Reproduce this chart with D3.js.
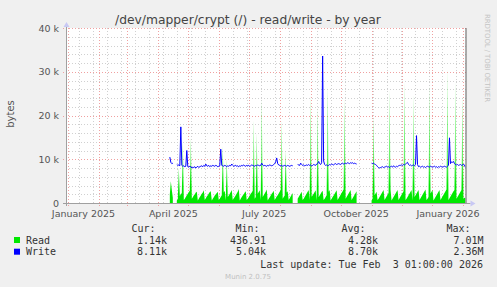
<!DOCTYPE html>
<html><head><meta charset="utf-8">
<script src="https://cdn.jsdelivr.net/npm/d3@7"></script>
<style>body{margin:0;background:#f0f0f0;}svg{display:block;}</style>
</head><body><svg id="c" width="497" height="287"></svg>
<script>
const title = "/dev/mapper/crypt (/) - read/write - by year";
const yLabel = "bytes";
const endTime = Date.UTC(2026, 1, 3, 1, 0, 0);
const spanDays = 400;
const dataStart = Date.UTC(2025, 3, 13);
// daily values in kilobytes (null = no data)
const readK = [
 2.0, 5.0, 3.0, 1.2,
 null, null, null,
 0.6, 0.9, 8.0, 1.6, 2.0, 2.3, 14.0,
 0.7, 1.0, 1.4, 1.8, 2.1, 2.5, 2.8,
 15.0, 1.0, 1.3, 1.7, 2.0, 2.4, 2.6,
 0.6, 1.0, 1.4, 1.7, 2.1, 2.4, 2.9,
 0.7, 1.1, 1.5, 1.8, 2.2, 2.5, 2.7,
 0.6, 1.0, 1.3, 1.7, 2.0, 2.3, 2.6,
 0.7, 1.0, 1.4, 1.8, 13.0, 2.4, 2.8,
 0.6, 10.0, 1.4, 1.7, 2.1, 2.5, 3.0,
 0.7, 1.1, 1.4, 1.8, 2.2, 2.6, 3.2,
 0.6, 1.0, 1.4, 1.7, 2.0, 2.4, 2.7,
 0.7, 1.0, 1.3, 1.7, 2.1, 2.4, 2.8,
 19.0, 1.0, 1.4, 16.0, 2.1, 2.5, 2.9,
 0.7, 24.0, 1.4, 1.8, 2.2, 2.6, 3.1,
 0.6, 1.0, 1.3, 1.7, 2.1, 2.4, 2.8,
 0.7, 1.1, 1.5, 1.8, 2.2, 2.6, 3.0,
 19.0, 1.0, 1.4, 1.7, 12.0, 2.4, 2.7,
 0.7, 1.1, 1.5, 1.9, 2.3,
 null, null, null, null,
 1.0, 1.4, 1.8, 2.2, 2.6, 0.7, 1.0,
 1.4, 1.8, 2.2, 2.6, 3.0, 0.7, 25.0,
 1.4, 1.8, 2.1, 2.5, 2.9, 0.6, 22.0,
 1.3, 1.7, 2.1, 2.5, 2.8, 0.7, 1.0,
 1.4, 1.8, 27.0, 2.6, 3.0, 0.6, 1.0,
 1.4, 1.7, 2.1, 2.5, 2.9, 0.7, 1.1,
 1.5, 1.9, 2.3, 2.7, 3.1, 24.0, 1.0,
 1.4, 1.8, 2.2, 2.6, 3.0, 0.7, 1.1,
 1.5, 1.9, 2.3, 2.7,
 null, null, null, null, null, null, null, null, null, null, null, null, null, null,
 0.6, 1.0, 20.0, 1.8, 2.2, 2.6, 0.7,
 1.0, 1.4, 1.8, 2.2, 2.6, 3.0, 0.7,
 1.1, 1.5, 1.9, 2.3, 26.0, 3.0, 0.6,
 1.0, 1.4, 1.8, 2.2, 2.6, 3.0, 0.7,
 1.1, 1.5, 1.9, 2.3, 2.7, 28.0, 0.7,
 1.0, 1.4, 1.8, 2.2, 2.6, 3.0, 0.6,
 25.0, 1.4, 1.8, 2.2, 2.6, 3.0, 0.7,
 1.1, 1.5, 1.9, 2.3, 2.7, 3.1, 0.7,
 1.0, 1.4, 27.0, 2.2, 2.6, 3.0, 0.6,
 1.0, 1.4, 1.8, 2.2, 2.6, 3.0, 0.7,
 1.1, 1.5, 1.9, 2.3, 2.7, 3.1, 31.0,
 0.7, 1.1, 1.5, 1.9, 2.3, 2.7, 3.0,
 28.0, 1.0, 1.4, 1.8, 2.2, 2.6, 3.0,
 25.0, 1.0, 1.2, 1.14
];
const writeK = [
 10.5, 9.3, 9.0, 9.1,
 null, null, null,
 8.8, 8.6, 8.7, 8.5,
 17.4,
 8.6, 8.4, 8.5, 8.3, 8.4,
 12.0,
 8.3, 8.2, 8.4, 8.3, 8.0, 8.2, 8.1, 8.3, 8.0, 8.2, 8.4, 8.1, 8.3,
 8.4, 8.5, 8.3, 8.6, 8.4, 8.9, 8.5, 8.4, 8.6, 8.3, 8.5, 8.4, 8.6, 8.5, 8.4, 8.6, 8.5, 8.3, 8.4, 8.5,
 12.3,
 8.6, 8.5, 8.4, 8.6, 8.5, 8.3, 8.5, 8.4, 8.6, 8.5, 8.9, 8.6, 8.4, 8.5, 8.6, 8.4, 8.5, 8.3, 8.5,
 8.4, 8.6, 8.5, 8.7, 8.5, 8.4, 8.6, 8.5, 8.6, 8.4, 8.5, 8.7, 8.6, 8.5, 8.4, 8.6, 8.5, 8.7,
 8.6, 8.5, 8.6, 9.1, 8.7, 8.5, 8.6, 8.5, 8.4, 8.6, 8.5, 8.7, 8.6, 8.5, 8.6, 8.8, 9.0, 9.4,
 10.3,
 9.0, 8.7, 8.6, 8.5, 8.6, 8.4, 8.5, 8.6, 8.5, 8.4, 8.6, 8.5, 8.4, 8.5, 8.6, 8.5,
 null, null, null, null,
 8.8, 8.7, 8.6, 9.1, 8.8, 8.6, 8.7, 8.5, 8.6, 8.7, 8.6, 8.8, 8.6, 8.7, 8.5, 8.6, 8.8, 8.7, 8.6, 8.9, 9.0,
 9.5,
 9.0, 8.8, 9.2,
 33.6,
 9.6, 8.8, 8.6, 8.7, 8.5, 8.6, 8.8, 8.7, 8.9, 8.8, 8.7, 8.9, 9.0, 8.8, 8.9, 9.0, 8.9,
 8.8, 9.0, 9.1, 8.9, 9.0, 9.1, 9.0, 9.2, 9.1, 9.0, 9.2, 9.1, 9.2, 9.0, 9.1, 9.0, 8.9,
 null, null, null, null, null, null, null, null, null, null, null, null, null, null,
 9.1, 9.0, 9.1, 8.9, 8.8, 8.6, 8.3, 8.1, 8.0, 8.1, 8.2, 8.3, 8.1, 8.2, 8.3,
 8.4, 8.2, 8.3, 8.1, 8.3, 8.4, 8.2, 8.5, 8.3, 8.2, 8.4, 8.3, 8.5, 8.6,
 8.6, 8.7, 8.6, 8.8, 8.7, 8.9, 9.1, 9.3, 8.8, 8.6, 8.7, 8.5, 8.6, 8.7, 8.5, 8.8,
 15.4,
 8.8, 8.3, 8.4, 8.2, 8.3, 8.4, 8.2, 8.3, 8.1, 8.3, 8.4, 8.3, 8.2, 8.4, 8.3, 8.2,
 8.3, 8.4, 8.2, 8.3, 8.1, 8.3, 8.2, 8.4, 8.3, 8.2, 8.3, 8.4, 8.3, 8.2, 8.4, 8.6,
 14.9,
 9.0, 9.4, 9.3, 9.5, 9.0, 8.8, 8.7, 8.8, 8.6, 8.7, 8.8, 8.6, 8.7, 8.8, 8.7, 8.1
];
const yTicks = [0, 10000, 20000, 30000, 40000];
const yTickLabels = ["0", "10 k", "20 k", "30 k", "40 k"];
const xLabels = ["January 2025", "April 2025", "July 2025", "October 2025", "January 2026"];
const xLabelMonths = [[2025,0],[2025,3],[2025,6],[2025,9],[2026,0]];
const seriesNames = ["Read", "Write"];
const seriesColors = ["#00e800", "#0000ff"];
const curVals = ["1.14k", "8.11k"];
const minVals = ["436.91", "5.04k"];
const avgVals = ["4.28k", "8.70k"];
const maxVals = ["7.01M", "2.36M"];
const lastUpdate = "Last update: Tue Feb  3 01:00:00 2026";
const version = "Munin 2.0.75";
const watermark = "RRDTOOL / TOBI OETIKER";

const DAY = 86400000;
const svg = d3.select("#c");
const L = 66, R = 465.5, T = 28, B = 203;
const x = d3.scaleTime().domain([new Date(endTime - spanDays*DAY), new Date(endTime)]).range([L, R]);
const y = d3.scaleLinear().domain([0, 40000]).range([B, T]);

svg.append("rect").attr("width",497).attr("height",287).attr("fill","#f0f0f0");
svg.append("rect").attr("x",L).attr("y",T).attr("width",R-L).attr("height",B-T).attr("fill","#ffffff");

// grid
const g = svg.append("g").attr("shape-rendering","crispEdges");
const minorDays = d3.range(0, 30).map(i => new Date(Date.UTC(2024,11,29) + i*14*DAY))
  .filter(d => +d > endTime - spanDays*DAY && +d < endTime);
minorDays.forEach(d => {
  const px = Math.round(x(d)) + 0.5;
  g.append("line").attr("x1",px).attr("x2",px).attr("y1",T).attr("y2",B)
    .attr("stroke","#d0d0d0").attr("stroke-dasharray","1,2");
});
d3.range(0, 40001, 2000).filter(v => v % 10000 !== 0).forEach(v => {
  const py = Math.round(y(v)) + 0.5;
  g.append("line").attr("x1",L).attr("x2",R).attr("y1",py).attr("y2",py)
    .attr("stroke","#d0d0d0").attr("stroke-dasharray","1,2");
});
const months = d3.utcMonth.range(new Date(endTime - spanDays*DAY), new Date(endTime));
months.forEach(d => {
  const px = Math.round(x(d)) + 0.5;
  g.append("line").attr("x1",px).attr("x2",px).attr("y1",T).attr("y2",B+3)
    .attr("stroke","#f0a0a0").attr("stroke-dasharray","1,2");
});
yTicks.forEach(v => {
  const py = Math.round(y(v)) + 0.5;
  g.append("line").attr("x1",L-3).attr("x2",R).attr("y1",py).attr("y2",py)
    .attr("stroke","#f0a0a0").attr("stroke-dasharray","1,2");
});

// data
const readData = readK.map((v,i) => ({t: new Date(dataStart + i*DAY), v: v == null ? null : v*1000}));
const writeData = writeK.map((v,i) => ({t: new Date(dataStart + i*DAY), v: v == null ? null : v*1000}));
const defs = svg.append("defs");
defs.append("clipPath").attr("id","pc").append("rect")
  .attr("x",L).attr("y",T).attr("width",R-L).attr("height",B-T);
const grad = defs.append("linearGradient").attr("id","rg").attr("gradientUnits","userSpaceOnUse")
  .attr("x1",0).attr("x2",0).attr("y1",B).attr("y2",T);
[[0, 1], [(B - y(4000))/(B-T), 1], [(B - y(10000))/(B-T), 0.6], [(B - y(25000))/(B-T), 0.38], [1, 0.3]]
  .forEach(s => grad.append("stop").attr("offset", s[0]).attr("stop-color", seriesColors[0]).attr("stop-opacity", s[1]));
const area = d3.area().defined(d => d.v != null).x(d => x(d.t)).y0(B).y1(d => y(d.v));
svg.append("path").datum(readData).attr("d", area).attr("fill", "url(#rg)").attr("clip-path","url(#pc)");
const line = d3.line().defined(d => d.v != null).x(d => x(d.t)).y(d => y(d.v));
svg.append("path").datum(writeData).attr("d", line).attr("fill","none")
  .attr("stroke", seriesColors[1]).attr("stroke-width",1).attr("clip-path","url(#pc)");

// axes frame
svg.append("line").attr("x1",L+0.5).attr("x2",L+0.5).attr("y1",T-4).attr("y2",B+3).attr("stroke","#a0a0a0");
svg.append("line").attr("x1",L-3).attr("x2",R+5).attr("y1",B+0.5).attr("y2",B+0.5).attr("stroke","#a0a0a0");
svg.append("path").attr("d",`M${L-2.5},${T-1} L${L+0.5},${T-6} L${L+3.5},${T-1} Z`).attr("fill","#c8c8f4");
svg.append("path").attr("d",`M${R+5},${B-2.5} L${R+10},${B+0.5} L${R+5},${B+3.5} Z`).attr("fill","#c8c8f4");
svg.append("line").attr("x1",R+0.5).attr("x2",R+0.5).attr("y1",T).attr("y2",B).attr("stroke","#606060");

// y labels
const font = "'DejaVu Sans', sans-serif";
yTicks.forEach((v,i) => {
  svg.append("text").attr("x",59).attr("y",y(v)+3.5).attr("text-anchor","end")
    .attr("font-family",font).attr("font-size",9.5).attr("fill","#555").text(yTickLabels[i]);
});
svg.append("text").attr("transform","translate(13.5,114) rotate(-90)").attr("text-anchor","middle")
  .attr("font-family",font).attr("font-size",10).attr("fill","#555").text(yLabel);
// x labels
xLabels.forEach((s,i) => {
  const d = new Date(Date.UTC(xLabelMonths[i][0], xLabelMonths[i][1], 1));
  svg.append("text").attr("x", x(d) + 15.5).attr("y", 216.5).attr("text-anchor","middle")
    .attr("font-family",font).attr("font-size",9.5).attr("fill","#555").text(s);
});
// title
svg.append("text").attr("x",248).attr("y",23.5).attr("text-anchor","middle")
  .attr("font-family",font).attr("font-size",12.3).attr("fill","#444").text(title);
// watermark
svg.append("text").attr("transform","translate(485,14) rotate(90)").attr("font-family",font)
  .attr("font-size",7).attr("fill","#c4c4c4").attr("textLength",88).text(watermark);

// legend
const mono = "'DejaVu Sans Mono', monospace";
const hdr = [["Cur:",155.5],["Min:",259.5],["Avg:",365.5],["Max:",470.5]];
hdr.forEach(h => svg.append("text").attr("x",h[1]).attr("y",232).attr("text-anchor","end")
  .attr("font-family",mono).attr("font-size",10).attr("fill","#333").text(h[0]));
const cols = [[curVals,167],[minVals,266],[avgVals,378],[maxVals,483.5]];
seriesNames.forEach((n,i) => {
  const cy = 240 + i*11.7;
  svg.append("rect").attr("x",14).attr("y",cy-3).attr("width",6).attr("height",6).attr("fill",seriesColors[i]);
  svg.append("text").attr("x",26).attr("y",cy+3.5).attr("font-family",mono).attr("font-size",10).attr("fill","#333").text(n);
  cols.forEach(c => svg.append("text").attr("x",c[1]).attr("y",cy+3.5).attr("text-anchor","end")
    .attr("font-family",mono).attr("font-size",10).attr("fill","#333").text(c[0][i]));
});
svg.append("text").attr("x",483).attr("y",267.5).attr("text-anchor","end").attr("xml:space","preserve")
  .style("white-space","pre").attr("font-family",mono).attr("font-size",10).attr("fill","#333").text(lastUpdate);
svg.append("text").attr("x",248).attr("y",279).attr("text-anchor","middle")
  .attr("font-family",font).attr("font-size",7).attr("fill","#c0c0c0").text(version);
</script></body></html>
